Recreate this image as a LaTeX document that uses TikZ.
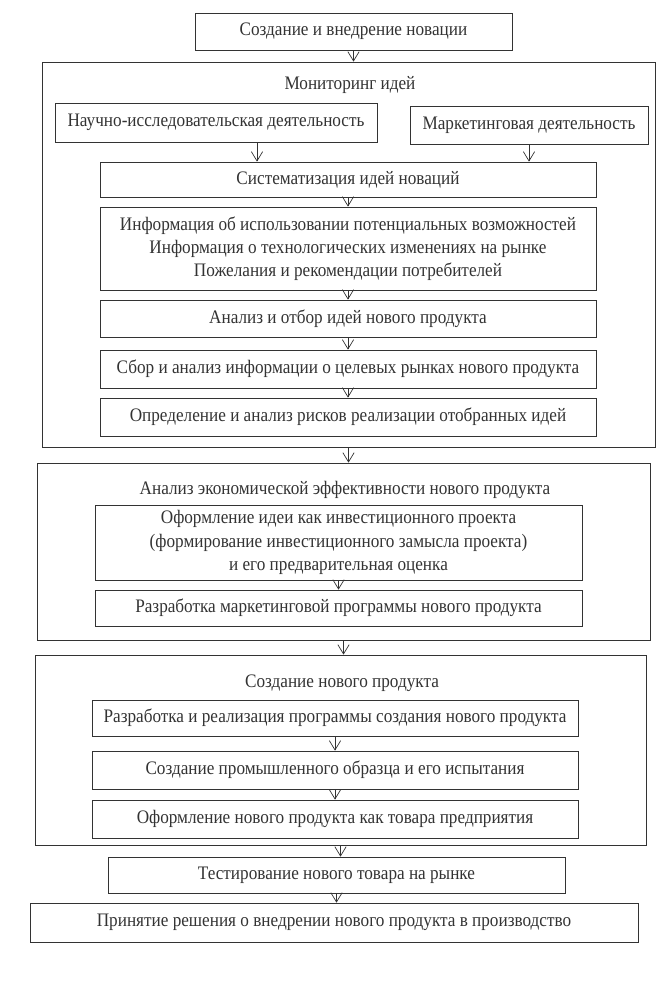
\documentclass[tikz,border=0pt]{standalone}
\usepackage{fontspec}
\setmainfont{Liberation Serif}[FakeStretch=0.9]
\usetikzlibrary{arrows.meta}

\begin{document}
\begin{tikzpicture}[x=0.03cm, y=-0.03cm, line width=0.6pt, color=black!80,
    box/.style={draw, align=center, inner sep=0pt, font=\fontsize{16.3}{19.8}\selectfont},
    heading/.style={inner sep=0pt, font=\fontsize{16.3}{19.8}\selectfont},
    >={Straight Barb[length=2.8mm, width=3.4mm]}]
    \useasboundingbox (0, 0) rectangle (669, 981);

    % draw top box
    \node[box, minimum width=9.51cm, minimum height=1.11cm] (novac) at (353.5, 31.5) {Создание и внедрение новации};

    % draw monitoring block
    \node[box, minimum width=18.39cm, minimum height=11.55cm] (monit) at (348.5, 254.5) {};
    \node[heading] (monitT) at (350, 85) {Мониторинг идей};
    \node[box, minimum width=9.66cm, minimum height=1.17cm] (nir) at (216, 122.5) {Научно-исследовательская деятельность};
    \node[box, minimum width=7.14cm, minimum height=1.14cm] (mkt) at (529, 125) {Маркетинговая деятельность};
    \node[box, minimum width=14.88cm, minimum height=1.05cm] (sys) at (348, 179.5) {Систематизация идей новаций};
    \node[box, minimum width=14.88cm, minimum height=2.49cm] (info) at (348, 248.5) {Информация об использовании потенциальных возможностей\\Информация о технологических изменениях на рынке\\Пожелания и рекомендации потребителей};
    \node[box, minimum width=14.88cm, minimum height=1.11cm] (anal) at (348, 318.5) {Анализ и отбор идей нового продукта};
    \node[box, minimum width=14.88cm, minimum height=1.14cm] (sbor) at (348, 369) {Сбор и анализ информации о целевых рынках нового продукта};
    \node[box, minimum width=14.88cm, minimum height=1.14cm] (risk) at (348, 417) {Определение и анализ рисков реализации отобранных идей};

    % draw economic block
    \node[box, minimum width=18.39cm, minimum height=5.31cm] (econ) at (343.5, 551.5) {};
    \node[heading] (econT) at (345, 490) {Анализ экономической эффективности нового продукта};
    \node[box, minimum width=14.61cm, minimum height=2.25cm] (proj) at (338.5, 542.5) {Оформление идеи как инвестиционного проекта\\(формирование инвестиционного замысла проекта)\\и его предварительная оценка};
    \node[box, minimum width=14.61cm, minimum height=1.08cm] (mprog) at (338.5, 608) {Разработка маркетинговой программы нового продукта};

    % draw creation block
    \node[box, minimum width=18.33cm, minimum height=5.7cm] (sozd) at (340.5, 750) {};
    \node[heading] (sozdT) at (342, 683) {Создание нового продукта};
    \node[box, minimum width=14.58cm, minimum height=1.08cm] (cprog) at (335, 718) {Разработка и реализация программы создания нового продукта};
    \node[box, minimum width=14.58cm, minimum height=1.14cm] (obraz) at (335, 770) {Создание промышленного образца и его испытания};
    \node[box, minimum width=14.58cm, minimum height=1.14cm] (tovar) at (335, 819) {Оформление нового продукта как товара предприятия};

    % draw bottom boxes
    \node[box, minimum width=13.71cm, minimum height=1.08cm] (test) at (336.5, 875) {Тестирование нового товара на рынке};
    \node[box, minimum width=18.24cm, minimum height=1.17cm] (prin) at (334, 922.5) {Принятие решения о внедрении нового продукта в производство};

    % draw arrows
    \draw[->] (novac.south) -- (novac.south |- monit.north);
    \draw[->] ([xshift=1.23cm]nir.south) -- ([xshift=1.23cm]nir.south |- sys.north);
    \draw[->] (mkt.south) -- (mkt.south |- sys.north);
    \foreach \a/\b in {sys/info, info/anal, anal/sbor, sbor/risk, monit/econ, proj/mprog, econ/sozd, cprog/obraz, obraz/tovar, sozd/test, test/prin}
        \draw[->] (\a.south) -- (\a.south |- \b.north);

\end{tikzpicture}
\end{document}
